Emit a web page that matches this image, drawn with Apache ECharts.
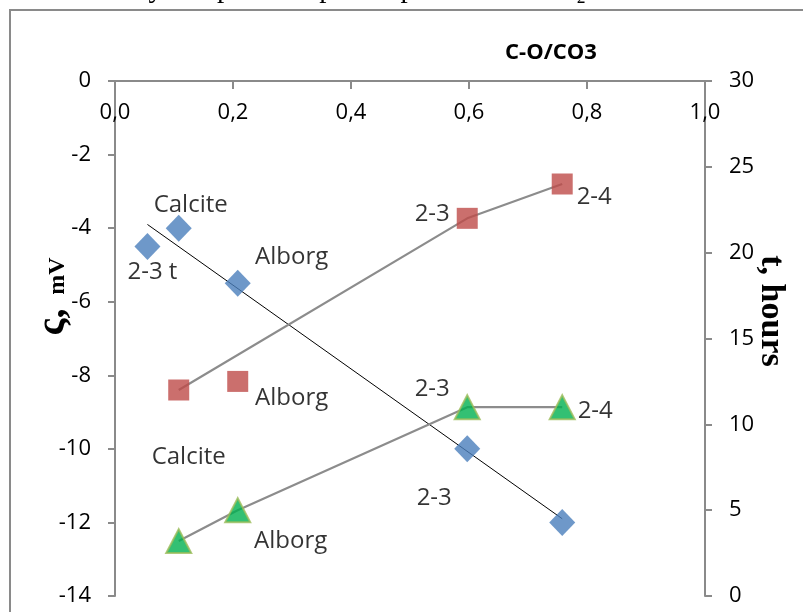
<!DOCTYPE html>
<html><head><meta charset="utf-8">
<script src="https://cdn.jsdelivr.net/npm/echarts@6/dist/echarts.min.js"></script>
<style>html,body{margin:0;padding:0;background:#fff}#c{width:803px;height:612px}</style>
</head><body><div id="c"></div>
<script>
// ---- data ----
const xTickLabels = ['0,0','0,2','0,4','0,6','0,8','1,0'];
const zetaX = [0.055, 0.108, 0.208, 0.597, 0.758];
const zetaY = [-4.5, -4.0, -5.5, -10.0, -12.0];
const zetaLabels = ['2-3 t', 'Calcite', 'Alborg', '2-3', ''];
const zetaTrendX = [0.055, 0.758];
const zetaTrendY = [-3.9, -11.9];
const redX = [0.108, 0.208, 0.597, 0.758];
const redT = [12.0, 12.5, 22.0, 24.0];
const redLabels = ['Calcite', 'Alborg', '2-3', '2-4'];
const redLineIdx = [0, 2, 3];
const greenX = [0.108, 0.208, 0.597, 0.758];
const greenT = [3.2, 5.0, 11.0, 11.0];
const greenLabels = ['', 'Alborg', '2-3', '2-4'];

// ---- label placement (style only) ----
const zetaOff = [[5,26],[12,-23],[54,-26],[-33,49],[0,0]];
const redOff = [[10,67],[54,17],[-35,-4],[32,13]];
const greenOff = [[0,0],[53,31],[-35,-18],[33,4]];

const FONT = "'Open Sans', sans-serif";
function pts(xs, ys, labels, offs) {
  return xs.map((x, i) => {
    const d = { value: [x, ys[i]] };
    if (labels && labels[i]) {
      d.label = { show: true, formatter: labels[i], position: 'inside', offset: offs[i],
        color: '#000', fontSize: 24, fontFamily: FONT };
    }
    return d;
  });
}

const chart = echarts.init(document.getElementById('c'), null, { renderer: 'canvas' });
chart.setOption({
  animation: false,
  backgroundColor: '#fff',
  grid: { left: 115, right: 98, top: 81, bottom: 16 },
  xAxis: {
    type: 'value', position: 'top', min: 0, max: 1, interval: 0.2,
    axisLine: { show: true, lineStyle: { color: '#8a8a8a', width: 2 } },
    axisTick: { show: true, inside: true, length: 8, lineStyle: { color: '#8a8a8a', width: 2 } },
    axisLabel: { inside: true, margin: 21, color: '#000', fontSize: 22, fontFamily: FONT,
      formatter: v => xTickLabels[Math.round(v / 0.2)] },
    splitLine: { show: false }
  },
  yAxis: [
    { type: 'value', position: 'left', min: -14, max: 0, interval: 2,
      axisLine: { show: true, onZero: false, lineStyle: { color: '#8a8a8a', width: 2 } },
      axisTick: { show: true, length: 7, lineStyle: { color: '#8a8a8a', width: 2 } },
      axisLabel: { margin: 24, color: '#000', fontSize: 22, fontFamily: FONT },
      splitLine: { show: false } },
    { type: 'value', position: 'right', min: 0, max: 30, interval: 5,
      axisLine: { show: true, onZero: false, lineStyle: { color: '#8a8a8a', width: 2 } },
      axisTick: { show: true, length: 7, lineStyle: { color: '#8a8a8a', width: 2 } },
      axisLabel: { margin: 24, color: '#000', fontSize: 22, fontFamily: FONT },
      splitLine: { show: false } }
  ],
  series: [
    { type: 'line', yAxisIndex: 0, data: zetaTrendX.map((x, i) => [x, zetaTrendY[i]]),
      showSymbol: false, symbol: 'none', lineStyle: { color: '#000', width: 1 }, z: 2, silent: true },
    { type: 'line', yAxisIndex: 1, data: redLineIdx.map(i => [redX[i], redT[i]]),
      symbol: 'none', lineStyle: { color: '#8c8c8c', width: 2.2 }, z: 2, silent: true },
    { type: 'line', yAxisIndex: 1, data: greenX.map((x, i) => [x, greenT[i]]),
      symbol: 'none', lineStyle: { color: '#8c8c8c', width: 2.2 }, z: 2, silent: true },
    { type: 'scatter', yAxisIndex: 0, data: pts(zetaX, zetaY, zetaLabels, zetaOff),
      symbol: 'diamond', symbolSize: [26, 27], itemStyle: { color: '#4a7ebb' }, z: 5 },
    { type: 'scatter', yAxisIndex: 1, data: pts(redX, redT, redLabels, redOff),
      symbol: 'rect', symbolSize: 21, itemStyle: { color: '#be4b48' }, z: 5 },
    { type: 'scatter', yAxisIndex: 1, data: pts(greenX, greenT, greenLabels, greenOff),
      symbol: 'triangle', symbolSize: [25, 24],
      itemStyle: { color: '#00b050', borderColor: '#9bbb59', borderWidth: 2 }, z: 5 }
  ],
  graphic: [
    { type: 'rect', shape: { x: 10, y: 10, width: 830, height: 640 },
      style: { fill: 'none', stroke: '#8a8a8a', lineWidth: 2 }, z: -1 },
    { type: 'text', x: 22, y: -11,
      style: { text: 'various clay samples at a partial pressure of CO\u2082', fill: '#000',
        font: "29px 'Liberation Serif', serif", textVerticalAlign: 'middle' } },
    { type: 'text', x: 551, y: 53,
      style: { text: 'C-O/CO3', fill: '#000', font: "bold 22px 'Open Sans', sans-serif",
        textAlign: 'center', textVerticalAlign: 'middle' } },
    { type: 'text', x: 54, y: 322, rotation: Math.PI / 2,
      style: { text: '\u03c2,', fill: '#000', font: "bold 40px 'Liberation Serif', serif",
        textAlign: 'center', textVerticalAlign: 'middle' } },
    { type: 'text', x: 58, y: 276, rotation: Math.PI / 2,
      style: { text: 'mV', fill: '#000', font: "bold 24px 'Liberation Serif', serif",
        textAlign: 'center', textVerticalAlign: 'middle' } },
    { type: 'text', x: 771, y: 311, rotation: -Math.PI / 2,
      style: { text: 't, hours', fill: '#000', font: "bold 34px 'Liberation Serif', serif",
        textAlign: 'center', textVerticalAlign: 'middle' } }
  ]
});
</script></body></html>
